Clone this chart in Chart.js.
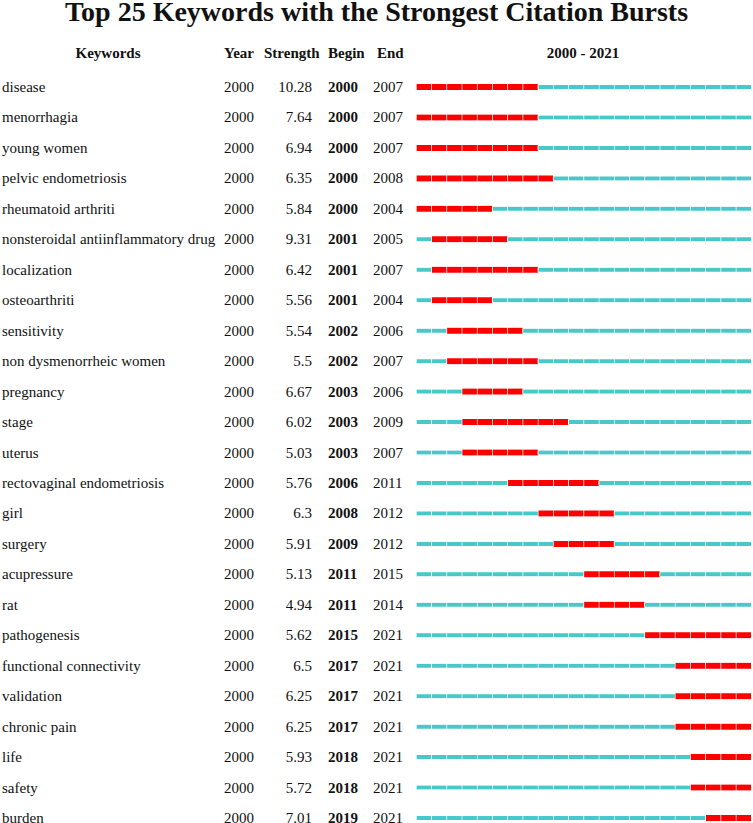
<!DOCTYPE html>
<html>
<head>
<meta charset="utf-8">
<script src="https://cdn.jsdelivr.net/npm/chart.js@4/dist/chart.umd.min.js"></script>
<style>
  html, body { margin: 0; padding: 0; background: #fff; overflow: hidden; }
  body { width: 753px; height: 823px; position: relative; font-family: "Liberation Serif", "Times New Roman", serif; color: #111; }
  #c { position: absolute; left: 0; top: 0; }
  .t { position: absolute; white-space: nowrap; font-size: 15px; line-height: 18px; }
  .b { font-weight: bold; }
  #title { position: absolute; left: 0; width: 753px; top: -4px; text-align: center; font-weight: bold; font-size: 28px; line-height: 32px; white-space: nowrap; }
</style>
</head>
<body>
<div id="title">Top 25 Keywords with the Strongest Citation Bursts</div>
<div id="text"></div>
<canvas id="c" width="753" height="823"></canvas>
<script>
const keywords = ["disease","menorrhagia","young women","pelvic endometriosis","rheumatoid arthriti","nonsteroidal antiinflammatory drug","localization","osteoarthriti","sensitivity","non dysmenorrheic women","pregnancy","stage","uterus","rectovaginal endometriosis","girl","surgery","acupressure","rat","pathogenesis","functional connectivity","validation","chronic pain","life","safety","burden"];
const years = [2000,2000,2000,2000,2000,2000,2000,2000,2000,2000,2000,2000,2000,2000,2000,2000,2000,2000,2000,2000,2000,2000,2000,2000,2000];
const strengths = ["10.28","7.64","6.94","6.35","5.84","9.31","6.42","5.56","5.54","5.5","6.67","6.02","5.03","5.76","6.3","5.91","5.13","4.94","5.62","6.5","6.25","6.25","5.93","5.72","7.01"];
const begins = [2000,2000,2000,2000,2000,2001,2001,2001,2002,2002,2003,2003,2003,2006,2008,2009,2011,2011,2015,2017,2017,2017,2018,2018,2019];
const ends = [2007,2007,2007,2008,2004,2005,2007,2004,2006,2007,2006,2009,2007,2011,2012,2012,2015,2014,2021,2021,2021,2021,2021,2021,2021];
const startYear = 2000, endYear = 2021;

// ----- text table (HTML) -----
const TOP = 87, BOTTOM = 818;
const ROW = (BOTTOM - TOP) / (keywords.length - 1);
const text = document.getElementById('text');
function add(html, style, cls) {
  const d = document.createElement('div');
  d.className = 't ' + (cls || '');
  d.setAttribute('style', style);
  d.textContent = html;
  text.appendChild(d);
}
const hy = 53 - 9;
add('Keywords', `left:58px;width:100px;text-align:center;top:${hy}px`, 'b');
add('Year', `left:224px;top:${hy}px`, 'b');
add('Strength', `left:264px;top:${hy}px`, 'b');
add('Begin', `left:328px;top:${hy}px`, 'b');
add('End', `left:377px;top:${hy}px`, 'b');
add(startYear + ' - ' + endYear, `left:483px;width:200px;text-align:center;top:${hy}px`, 'b');
keywords.forEach((k, i) => {
  const y = TOP + i * ROW - 9;
  add(k, `left:2px;top:${y}px`);
  add(String(years[i]), `left:224px;top:${y}px`);
  add(strengths[i], `left:262px;width:50px;text-align:right;top:${y}px`);
  add(String(begins[i]), `left:328px;top:${y}px`, 'b');
  add(String(ends[i]), `left:373px;top:${y}px`);
});

// ----- bars (Chart.js) -----
const cyan = 'rgb(72,200,200)', red = 'rgb(255,0,0)';
const datasets = [];
for (let yr = startYear; yr <= endYear; yr++) {
  datasets.push({
    data: keywords.map((k, i) => (yr >= begins[i] && yr <= ends[i]) ? null : [yr, yr + 1]),
    backgroundColor: cyan, barThickness: 4
  });
}
for (let yr = startYear; yr <= endYear; yr++) {
  datasets.push({
    data: keywords.map((k, i) => (yr >= begins[i] && yr <= ends[i]) ? [yr, yr + 1] : null),
    backgroundColor: red, barThickness: 6
  });
}
datasets.forEach(d => {
  d.borderColor = '#ffffff';
  d.borderWidth = { left: 1, right: 0, top: 0, bottom: 0 };
  d.borderSkipped = false;
  d.grouped = false;
  d.clip = false;
});

new Chart(document.getElementById('c'), {
  type: 'bar',
  data: { labels: keywords, datasets },
  options: {
    indexAxis: 'y',
    responsive: false,
    animation: false,
    devicePixelRatio: 1,
    layout: { padding: { left: 416, right: 2, top: TOP, bottom: 823 - BOTTOM } },
    plugins: { legend: { display: false }, tooltip: { enabled: false } },
    scales: {
      x: { type: 'linear', min: startYear, max: endYear + 1, display: false },
      y: { type: 'category', offset: false, display: false }
    }
  }
});
</script>
</body>
</html>
